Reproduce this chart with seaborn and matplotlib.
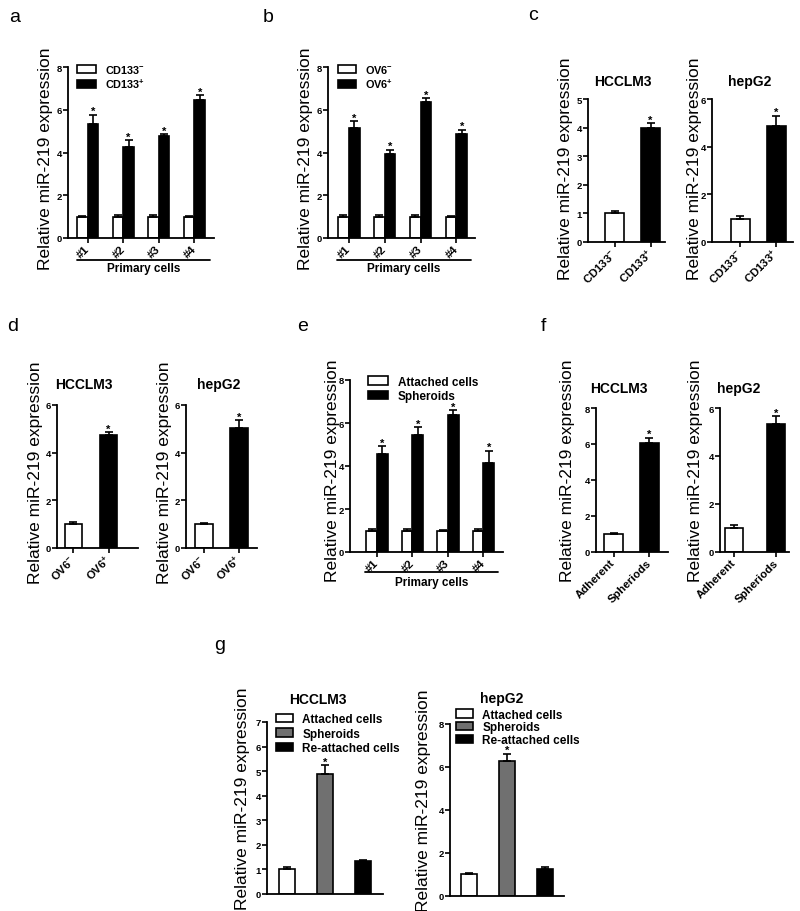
import numpy as np
import pandas as pd
import matplotlib
matplotlib.use("Agg")
import matplotlib.pyplot as plt
import seaborn as sns
from matplotlib.patches import Patch

# ---------------- data ----------------
primary_groups = ["#1", "#2", "#3", "#4"]

a_labels = ["CD133$^{-}$", "CD133$^{+}$"]
a_neg = [1.00, 1.00, 1.00, 1.00]
a_neg_err = [0.05, 0.06, 0.08, 0.05]
a_pos = [5.32, 4.28, 4.75, 6.45]
a_pos_err = [0.44, 0.30, 0.10, 0.22]

b_labels = ["OV6$^{-}$", "OV6$^{+}$"]
b_neg = [1.00, 1.00, 1.00, 1.00]
b_neg_err = [0.08, 0.07, 0.06, 0.04]
b_pos = [5.15, 3.92, 6.37, 4.86]
b_pos_err = [0.32, 0.20, 0.18, 0.20]

c_cats = ["CD133$^{-}$", "CD133$^{+}$"]
c_hcclm3 = [1.00, 3.98]
c_hcclm3_err = [0.07, 0.17]
c_hepg2 = [0.98, 4.85]
c_hepg2_err = [0.13, 0.45]

d_cats = ["OV6$^{-}$", "OV6$^{+}$"]
d_hcclm3 = [1.00, 4.74]
d_hcclm3_err = [0.10, 0.12]
d_hepg2 = [1.00, 5.05]
d_hepg2_err = [0.05, 0.32]

e_labels = ["Attached cells", "Spheroids"]
e_att = [1.00, 1.00, 1.00, 1.00]
e_att_err = [0.05, 0.08, 0.03, 0.05]
e_sph = [4.57, 5.44, 6.37, 4.16]
e_sph_err = [0.36, 0.37, 0.23, 0.54]

f_cats = ["Adherent", "Spheriods"]
f_hcclm3 = [1.00, 6.05]
f_hcclm3_err = [0.05, 0.30]
f_hepg2 = [1.00, 5.32]
f_hepg2_err = [0.11, 0.33]

g_cats = ["Attached cells", "Spheroids", "Re-attached cells"]
g_hcclm3 = [1.00, 4.90, 1.33]
g_hcclm3_err = [0.10, 0.34, 0.05]
g_hepg2 = [1.01, 6.27, 1.24]
g_hepg2_err = [0.08, 0.34, 0.10]

ylabel_text = "Relative miR-219 expression"

# ---------------- style ----------------
sns.set_theme(style="ticks")
plt.rcParams["font.family"] = ["Liberation Sans", "DejaVu Sans"]
plt.rcParams.update({
    "mathtext.fontset": "custom",
    "mathtext.rm": "Liberation Sans:bold",
    "mathtext.bf": "Liberation Sans:bold",
    "mathtext.it": "Liberation Sans:bold",
    "mathtext.default": "rm",
    "axes.edgecolor": "black",
    "xtick.color": "black",
    "ytick.color": "black",
    "text.color": "black",
    "axes.labelcolor": "black",
})

W, H = 800, 912
fig = plt.figure(figsize=(W / 100, H / 100), dpi=100)
fig.patch.set_facecolor("white")

WHITE, GREY, BLACK = "#ffffff", "#707070", "#000000"


def add_ax(box):
    x0, x1, ytop, ybot = box
    return fig.add_axes([x0 / W, 1 - ybot / H, (x1 - x0) / W, (ybot - ytop) / H])


def finish(ax, box, yticks, xlim, ylab_cx, ylab_y, cats, title=None, title_x=0.5, title_pad=10):
    x0, x1, ytop, ybot = box
    ax.set_xlim(*xlim)
    ax.set_ylim(0, yticks[-1])
    ax.set_yticks(yticks)
    ax.set_yticklabels([str(t) for t in yticks], fontweight="bold", fontsize=6.8)
    ax.set_xticks(range(len(cats)))
    ax.set_xticklabels(cats, rotation=45, ha="right", va="center",
                       rotation_mode="anchor", fontweight="bold", fontsize=8.2)
    sns.despine(ax=ax)
    for s in ("left", "bottom"):
        ax.spines[s].set_linewidth(1.3)
    ax.tick_params(axis="both", direction="out", length=3.3, width=1.2, pad=1.2)
    ax.tick_params(axis="x", pad=3)
    ax.set_xlabel("")
    ax.set_ylabel(ylabel_text, fontsize=12.5, fontweight="normal")
    ax.yaxis.set_label_coords((ylab_cx + 8 - x0) / (x1 - x0), ylab_y)
    ax.set_facecolor("none")
    if title:
        ax.set_title(title, fontsize=10, fontweight="bold", x=title_x, pad=title_pad)


def add_errors(ax, bars, errs, stars):
    bars = sorted(bars, key=lambda b: b.get_x())
    for bar, e, s in zip(bars, errs, stars):
        x = bar.get_x() + bar.get_width() / 2
        h = bar.get_height()
        ax.errorbar([x], [h], yerr=[[0], [e]], fmt="none", ecolor="black",
                    elinewidth=1.2, capsize=2.6, capthick=1.2, zorder=3)
        if s:
            ax.annotate("*", (x, h + e), xytext=(0, -1.0), textcoords="offset points",
                        ha="center", va="bottom", fontsize=8, fontweight="bold")


def grouped_panel(box, groups, labels, neg, neg_err, pos, pos_err, yticks, xlim,
                  ylab_cx, ylab_y, leg_anchor, leg_fs):
    ax = add_ax(box)
    df = pd.DataFrame({
        "group": groups * 2,
        "cond": [labels[0]] * len(groups) + [labels[1]] * len(groups),
        "value": list(neg) + list(pos),
    })
    sns.barplot(data=df, x="group", y="value", hue="cond", order=groups, hue_order=labels,
                palette=[WHITE, BLACK], saturation=1, width=0.6, edgecolor="black",
                linewidth=1.2, errorbar=None, legend=False, ax=ax)
    conts = list(ax.containers)
    add_errors(ax, list(conts[0]), neg_err, [False] * len(groups))
    add_errors(ax, list(conts[1]), pos_err, [True] * len(groups))
    finish(ax, box, yticks, xlim, ylab_cx, ylab_y, groups)
    handles = [Patch(facecolor=c, edgecolor="black", linewidth=1.2, label=l)
               for c, l in zip([WHITE, BLACK], labels)]
    ax.legend(handles=handles, loc="upper left", bbox_to_anchor=leg_anchor, frameon=False,
              prop={"weight": "bold", "size": leg_fs}, handlelength=1.7, handleheight=0.75,
              labelspacing=0.2, handletextpad=0.8, borderpad=0, borderaxespad=0)
    return ax


def primary_label(ax, xr, yline, ytext):
    ax.plot(xr, [yline, yline], transform=ax.transAxes, color="black", lw=1.3, clip_on=False)
    ax.text(np.mean(xr), ytext, "Primary cells", transform=ax.transAxes, ha="center",
            va="center", fontsize=8.5, fontweight="bold")


def simple_panel(box, cats, vals, errs, colors, width, yticks, xlim, ylab_cx, ylab_y,
                 title, title_x, title_pad, stars, legend_args=None):
    ax = add_ax(box)
    sns.barplot(x=cats, y=vals, hue=cats, order=cats, hue_order=cats, palette=colors,
                saturation=1, width=width, edgecolor="black", linewidth=1.2,
                errorbar=None, legend=False, ax=ax)
    bars = [b for c in ax.containers for b in c]
    add_errors(ax, bars, errs, stars)
    finish(ax, box, yticks, xlim, ylab_cx, ylab_y, cats, title, title_x, title_pad)
    if legend_args is not None:
        anchor, fs, lsp = legend_args
        handles = [Patch(facecolor=c, edgecolor="black", linewidth=1.2, label=l)
                   for c, l in zip(colors, cats)]
        ax.legend(handles=handles, loc="upper left", bbox_to_anchor=anchor, frameon=False,
                  prop={"weight": "bold", "size": fs}, handlelength=1.45, handleheight=0.7,
                  labelspacing=lsp, handletextpad=0.75, borderpad=0, borderaxespad=0)
        ax.set_xticklabels([])
        ax.tick_params(axis="x", length=0)
    return ax


# ---------------- panel a ----------------
box_a = (68, 214, 68, 239)
ax_a = grouped_panel(box_a, primary_groups, a_labels, a_neg, a_neg_err, a_pos, a_pos_err,
                     [0, 2, 4, 6, 8], (-0.55, 3.55), 45, 0.47, (0.065, 1.025), 7.8)
primary_label(ax_a, [0.06, 0.97], -0.129, -0.178)

# ---------------- panel b ----------------
box_b = (328, 475, 68, 239)
ax_b = grouped_panel(box_b, primary_groups, b_labels, b_neg, b_neg_err, b_pos, b_pos_err,
                     [0, 2, 4, 6, 8], (-0.58, 3.52), 305, 0.47, (0.065, 1.025), 7.8)
primary_label(ax_b, [0.06, 0.97], -0.129, -0.178)

# ---------------- panel c ----------------
simple_panel((588, 665, 100, 243), c_cats, c_hcclm3, c_hcclm3_err, [WHITE, BLACK], 0.53,
             [0, 1, 2, 3, 4, 5], (-0.745, 1.40), 565, 0.52, "HCCLM3", 0.455, 10, [False, True])
simple_panel((712, 793, 100, 243), c_cats, c_hepg2, c_hepg2_err, [WHITE, BLACK], 0.53,
             [0, 2, 4, 6], (-0.78, 1.47), 694, 0.52, "hepG2", 0.46, 10, [False, True])

# ---------------- panel d ----------------
simple_panel((57, 138, 406, 549), d_cats, d_hcclm3, d_hcclm3_err, [WHITE, BLACK], 0.5,
             [0, 2, 4, 6], (-0.47, 1.84), 35, 0.53, "HCCLM3", 0.33, 12, [False, True])
simple_panel((186, 257, 406, 549), d_cats, d_hepg2, d_hepg2_err, [WHITE, BLACK], 0.5,
             [0, 2, 4, 6], (-0.49, 1.49), 164, 0.53, "hepG2", 0.46, 12, [False, True])

# ---------------- panel e ----------------
box_e = (350, 503, 381, 553)
ax_e = grouped_panel(box_e, primary_groups, e_labels, e_att, e_att_err, e_sph, e_sph_err,
                     [0, 2, 4, 6, 8], (-0.76, 3.55), 332, 0.48, (0.12, 1.025), 8.5)
primary_label(ax_e, [0.098, 0.967], -0.116, -0.176)

# ---------------- panel f ----------------
simple_panel((596, 668, 409, 553), f_cats, f_hcclm3, f_hcclm3_err, [WHITE, BLACK], 0.52,
             [0, 2, 4, 6, 8], (-0.49, 1.52), 567, 0.57, "HCCLM3", 0.32, 11.5, [False, True])
simple_panel((720, 789, 409, 553), f_cats, f_hepg2, f_hepg2_err, [WHITE, BLACK], 0.43,
             [0, 2, 4, 6], (-0.34, 1.30), 695, 0.57, "hepG2", 0.27, 11.5, [False, True])

# ---------------- panel g ----------------
simple_panel((267, 383, 723, 895), g_cats, g_hcclm3, g_hcclm3_err, [WHITE, GREY, BLACK], 0.42,
             [0, 1, 2, 3, 4, 5, 6, 7], (-0.52, 2.53), 242, 0.56, "HCCLM3", 0.44, 14,
             [False, True, False], legend_args=((0.08, 1.05), 8.5, 0.2))
simple_panel((450, 564, 725, 897), g_cats, g_hepg2, g_hepg2_err, [WHITE, GREY, BLACK], 0.42,
             [0, 2, 4, 6, 8], (-0.5, 2.5), 423, 0.56, "hepG2", 0.45, 16,
             [False, True, False], legend_args=((0.055, 1.09), 8.5, 0.06))

# ---------------- panel letters ----------------
for letter, (px, py) in zip("abcdefg", [(15, 18), (268, 18), (533, 16), (13, 327),
                                        (303, 327), (543, 327), (220, 645)]):
    fig.text(px / W, 1 - py / H, letter, fontsize=14, ha="center", va="center")

fig.savefig("out.png", dpi=100, facecolor="white")
